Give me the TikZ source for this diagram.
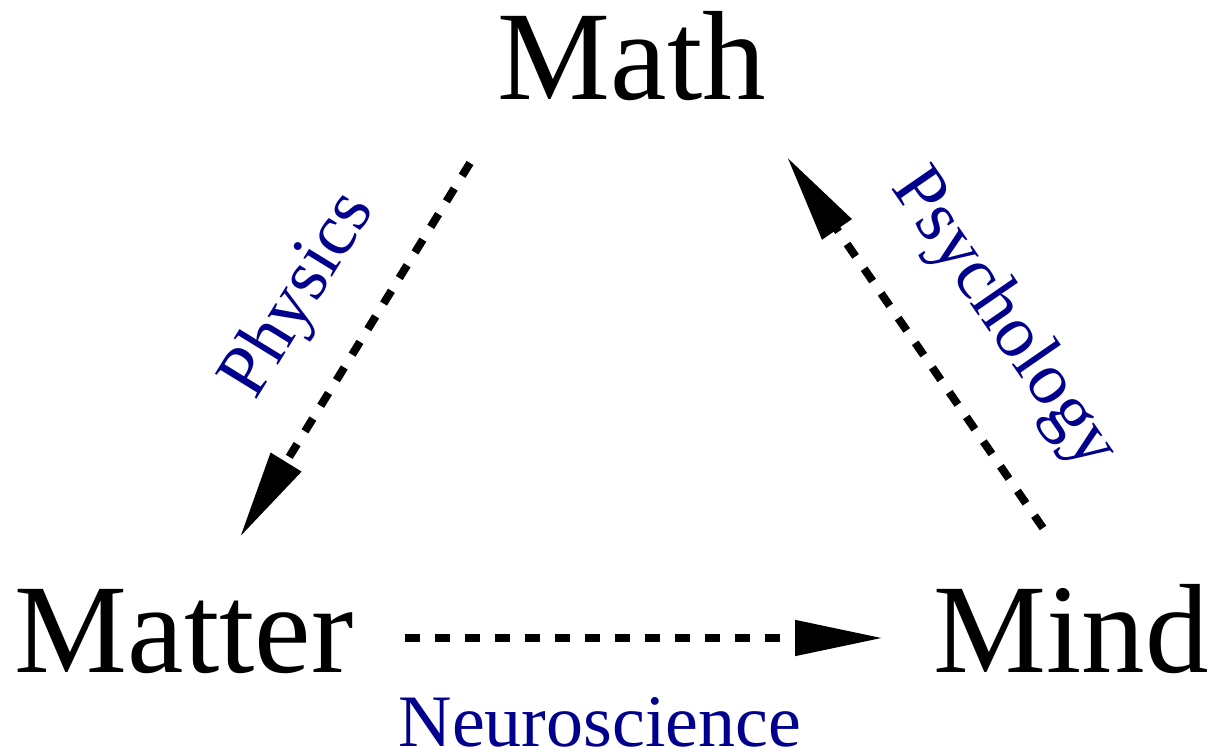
\documentclass[tikz,border=0pt]{standalone}
\usepackage{fontspec}
\setmainfont{Liberation Serif}
\usetikzlibrary{arrows.meta}
\definecolor{labelblue}{RGB}{0,0,140}
\tikzset{
  bigword/.style={anchor=base, inner sep=0pt, font=\fontsize{127}{127}\selectfont},
  fieldlabel/.style={inner sep=0pt, text=labelblue, font=\fontsize{74}{74}\selectfont},
  link/.style={line width=8pt, dash pattern=on 15pt off 15pt,
    -{Triangle[length=88pt, width=34pt]}}
}
\begin{document}
\begin{tikzpicture}[x=1pt, y=-1pt]
\useasboundingbox (0,0) rectangle (1212,754);
\node[bigword] (math) at (632,100) {Math};
\node[bigword] (matter) at (184,672) {Matter};
\node[bigword] (mind) at (1071,672) {Mind};

\coordinate (physS) at (470,163);
\coordinate (physE) at (240,537);
\coordinate (psyS) at (1043,528);
\coordinate (psyE) at (787,157);
\coordinate (neuS) at (405,638);
\coordinate (neuE) at (883,638);

\draw[link] (physS) -- (physE);
\draw[link] (psyS) -- (psyE);
\draw[link] (neuS) -- (neuE);

\node[fieldlabel, rotate=58.4] (phys) at (300,296) {Physics};
\node[fieldlabel, rotate=-55.4] (psy) at (1003,320) {Psychology};
\node[fieldlabel, anchor=base] (neu) at (600,746) {Neuroscience};
\end{tikzpicture}
\end{document}
